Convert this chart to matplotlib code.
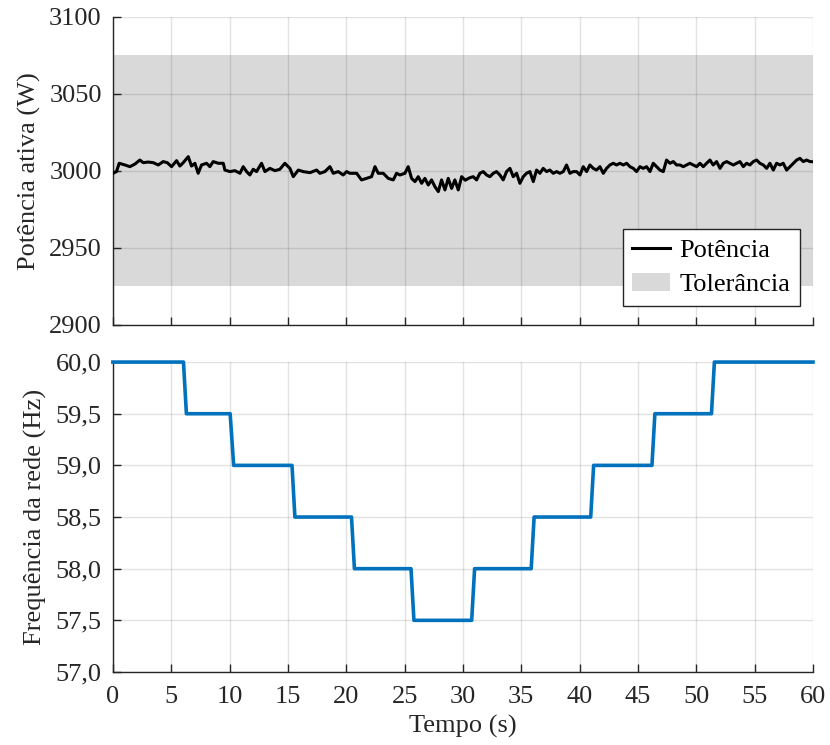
import numpy as np
import matplotlib
matplotlib.use("Agg")
import matplotlib.pyplot as plt
from matplotlib.ticker import FuncFormatter

plt.rcParams['font.family'] = ['Liberation Serif', 'DejaVu Serif']
plt.rcParams['font.size'] = 19

# ---- Data -------------------------------------------------------------
t_power = [0.0, 0.31, 0.54, 1.03, 1.46, 1.89, 2.31, 2.60, 3.03, 3.46, 3.89, 4.31, 4.66, 5.03,
           5.46, 5.74, 6.03, 6.46, 6.74, 7.03, 7.31, 7.60, 8.03, 8.31, 8.60, 9.03, 9.46,
           9.60, 10.03, 10.46, 10.89, 11.17, 11.46, 11.74, 12.03, 12.31, 12.74, 13.03,
           13.46, 13.89, 14.31, 14.74, 15.17, 15.46, 15.89, 16.31, 16.89, 17.46, 17.74,
           18.17, 18.60, 18.89, 19.31, 19.74, 20.03, 20.31, 20.89, 21.31, 21.74, 22.17,
           22.46, 22.74, 23.17, 23.60, 24.03, 24.31, 24.60, 25.03, 25.31, 25.60, 25.89,
           26.17, 26.46, 26.74, 27.03, 27.31, 27.60, 27.89, 28.17, 28.46, 28.74, 29.03,
           29.31, 29.60, 29.89, 30.20, 30.55, 30.88, 31.17, 31.45, 31.74, 32.03, 32.31,
           32.60, 32.88, 33.17, 33.45, 33.74, 34.03, 34.31, 34.60, 34.88, 35.17, 35.45,
           35.74, 36.03, 36.31, 36.60, 36.88, 37.17, 37.45, 37.74, 38.03, 38.31, 38.60,
           38.88, 39.17, 39.45, 39.74, 40.03, 40.31, 40.60, 40.88, 41.17, 41.45, 41.74,
           42.03, 42.31, 42.60, 42.88, 43.17, 43.45, 43.74, 44.03, 44.31, 44.60, 44.88,
           45.17, 45.45, 45.74, 46.03, 46.31, 46.60, 46.88, 47.17, 47.45, 47.74, 48.03,
           48.31, 48.60, 48.88, 49.17, 49.45, 49.74, 50.03, 50.31, 50.60, 50.88, 51.17,
           51.45, 51.74, 52.03, 52.31, 52.60, 52.88, 53.17, 53.45, 53.74, 54.03, 54.31,
           54.60, 54.88, 55.17, 55.45, 55.74, 56.03, 56.31, 56.60, 56.88, 57.17, 57.45,
           57.74, 58.03, 58.31, 58.60, 58.88, 59.17, 59.45, 59.74, 60.0]
power = [2998.5, 2999.6, 3005.0, 3003.9, 3002.8, 3004.5, 3007.1, 3005.4, 3005.8, 3005.4,
         3003.9, 3006.1, 3005.4, 3002.8, 3006.7, 3003.2, 3005.4, 3009.3, 3003.2, 3005.0,
         2998.5, 3003.9, 3005.0, 3002.8, 3006.1, 3005.0, 3005.0, 3000.6, 2999.6, 3000.2,
         2998.5, 3002.8, 2999.6, 2997.4, 3001.1, 2999.6, 3005.0, 2999.6, 3001.7, 3000.2,
         3001.1, 3005.0, 3001.7, 2996.3, 3000.6, 2999.6, 2998.9, 3000.6, 2998.5, 2999.6,
         3002.8, 2998.5, 2999.6, 2997.4, 2999.6, 2998.5, 2998.5, 2994.2, 2995.2, 2996.3,
         3002.8, 2998.5, 2998.5, 2995.2, 2994.2, 2998.5, 2997.4, 2998.5, 3002.8, 2995.2,
         2993.1, 2996.3, 2992.0, 2995.2, 2990.9, 2994.2, 2989.8, 2986.6, 2994.2, 2987.7,
         2995.2, 2988.7, 2994.2, 2987.7, 2996.3, 2994.0, 2995.5, 2996.3, 2994.2, 2998.5,
         2999.6, 2997.4, 2996.3, 2998.5, 2999.6, 2997.4, 2994.2, 2999.6, 3001.7, 2996.3,
         2998.5, 2992.0, 2996.3, 2998.5, 2999.6, 2993.1, 3000.6, 2998.5, 3001.7, 2999.6,
         3000.6, 2998.5, 2999.6, 2998.5, 2999.6, 3003.9, 2998.5, 2999.6, 2999.6, 2997.4,
         3002.8, 2999.6, 3003.9, 3001.7, 3000.6, 3002.8, 2998.5, 3001.7, 3003.9, 3005.0,
         3003.9, 3005.0, 3003.9, 3005.0, 3002.8, 3001.7, 2999.6, 3002.8, 3001.7, 3002.8,
         2999.6, 3005.0, 3002.8, 3000.6, 2999.6, 3007.1, 3005.0, 3006.1, 3003.9, 3003.9,
         3002.8, 3003.9, 3005.0, 3003.9, 3002.8, 3005.0, 3002.8, 3005.0, 3007.1, 3003.9,
         3006.1, 3001.7, 3005.0, 3006.1, 3005.0, 3003.9, 3005.0, 3006.1, 3002.8, 3005.0,
         3003.9, 3006.1, 3007.1, 3005.0, 3003.9, 3001.7, 3005.0, 3000.6, 3005.0, 3003.9,
         3005.0, 3000.6, 3002.8, 3005.0, 3007.1, 3008.2, 3006.1, 3007.1, 3006.1, 3006.0]

tol_low, tol_high = 2925, 3075

# frequency: step transitions (start/end time of each ramp) and the levels
step_start = [0.0, 6.05, 10.05, 15.35, 20.45, 25.55, 30.75, 35.85, 40.95, 46.2, 51.3]
step_end   = [0.0, 6.3, 10.35, 15.6, 20.7, 25.8, 31.0, 36.1, 41.2, 46.45, 51.55]
freq_level = [60.0, 59.5, 59.0, 58.5, 58.0, 57.5, 58.0, 58.5, 59.0, 59.5, 60.0]

x_ticks = list(range(0, 61, 5))
p_ticks = [2900, 2950, 3000, 3050, 3100]
f_ticks = [57.0, 57.5, 58.0, 58.5, 59.0, 59.5, 60.0]

# ---- Build frequency trace from the step table --------------------------
t_freq = [0.0]
f_vals = [freq_level[0]]
for s, e, lv, prev in zip(step_start[1:], step_end[1:], freq_level[1:], freq_level[:-1]):
    t_freq += [s, e]
    f_vals += [prev, lv]
t_freq.append(60.0)
f_vals.append(freq_level[-1])

# ---- Figure -------------------------------------------------------------
fig = plt.figure(figsize=(8.3, 7.45), dpi=100)
ax1 = fig.add_axes([0.136, 0.5638, 0.8435, 0.4134])
ax2 = fig.add_axes([0.136, 0.098, 0.8435, 0.416])

grid_kw = dict(color=(0.15, 0.15, 0.15), alpha=0.13, linewidth=1.0)
spine_col = (0.15, 0.15, 0.15)
FS = 19

for ax in (ax1, ax2):
    ax.set_xlim(0, 60)
    ax.set_xticks(x_ticks)
    ax.grid(True, **grid_kw)
    ax.set_axisbelow(True)
    ax.spines['top'].set_visible(False)
    ax.spines['right'].set_visible(False)
    for s in ('left', 'bottom'):
        ax.spines[s].set_color(spine_col)
        ax.spines[s].set_linewidth(1.0)
    ax.tick_params(direction='in', length=6, width=1.0, color=spine_col,
                   labelsize=FS, labelcolor=spine_col, top=False, right=False, pad=8)
ax2.tick_params(axis='x', pad=10)

# top plot
ax1.fill_between([0, 60], [tol_low, tol_low], [tol_high, tol_high],
                 color='#d9d9d9', linewidth=0, zorder=0.2, label='Tolerância')
ax1.plot(t_power, power, color='black', linewidth=2.2, label='Potência', zorder=3)
ax1.set_ylim(2900, 3100)
ax1.set_yticks(p_ticks)
ax1.tick_params(labelbottom=False)
ax1.set_ylabel('Potência ativa (W)', fontsize=FS, labelpad=6, color=spine_col)
h, l = ax1.get_legend_handles_labels()
leg = ax1.legend(h[::-1], l[::-1], loc='lower right', bbox_to_anchor=(0.981, 0.063),
                 fontsize=FS, frameon=True, fancybox=False, framealpha=1,
                 edgecolor=spine_col, borderpad=0.35, handlelength=1.45,
                 handletextpad=0.35, labelspacing=0.42, borderaxespad=0)
leg.get_frame().set_linewidth(1.0)

# bottom plot
ax2.plot(t_freq, f_vals, color='#0072BD', linewidth=2.6, clip_on=False, zorder=3,
         solid_joinstyle='round')
ax2.set_ylim(57, 60)
ax2.set_yticks(f_ticks)
ax2.yaxis.set_major_formatter(FuncFormatter(lambda v, p: f'{v:.1f}'.replace('.', ',')))
ax2.set_ylabel('Frequência da rede (Hz)', fontsize=FS, labelpad=6, color=spine_col)
ax2.set_xlabel('Tempo (s)', fontsize=FS, labelpad=5, color=spine_col)

fig.savefig('out.png', dpi=100)
